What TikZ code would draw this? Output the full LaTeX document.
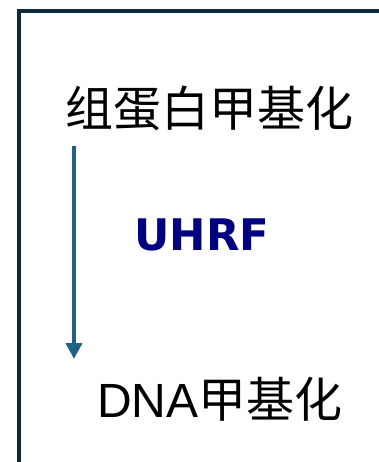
\documentclass[tikz,border=0pt]{standalone}
\usepackage{fontspec}
\newfontfamily\cjk{Noto Sans CJK SC}
\newfontfamily\verd{DejaVu Sans}
\newfontfamily\arl{Liberation Sans}
\usetikzlibrary{arrows.meta}
\definecolor{framec}{HTML}{0E2B3D}
\definecolor{arrowc}{HTML}{1F6284}
\definecolor{navyc}{HTML}{000080}
\tikzset{
  frameline/.style={draw=framec, line width=4pt},
  bigtext/.style={inner sep=0pt, font=\cjk\fontsize{48pt}{50pt}\selectfont, text=black},
  labeltext/.style={inner sep=0pt, font=\verd\bfseries\fontsize{43.5pt}{46pt}\selectfont, text=navyc},
  flowarrow/.style={draw=arrowc, line width=4pt, -{Triangle[length=16pt,width=16pt]}}
}
\begin{document}
\begin{tikzpicture}[x=1pt,y=1pt]
\useasboundingbox (0,0) rectangle (378,-462);
\fill[white] (0,0) rectangle (378,-462);
\draw[frameline] (19,-470) -- (19,-11.5) -- (390,-11.5);
\node[bigtext] (top) at (209.5,-108) {组蛋白甲基化};
\node[labeltext] (lab) at (202,-235) {UHRF};
\node[bigtext] (bot) at (220,-399) {{\arl DNA}甲基化};
\coordinate (a1) at (74,-146);
\coordinate (a2) at (74,-359);
\draw[flowarrow] (a1) -- (a2);
\end{tikzpicture}
\end{document}
